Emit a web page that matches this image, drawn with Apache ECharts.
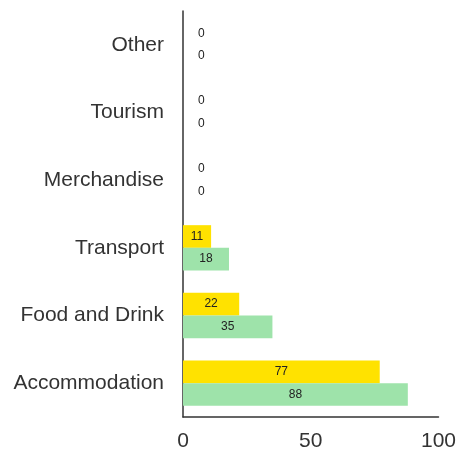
<!DOCTYPE html>
<html>
<head>
<meta charset="utf-8">
<script src="https://cdn.jsdelivr.net/npm/echarts@6/dist/echarts.min.js"></script>
<style>html,body{margin:0;padding:0;background:#fff}#c{width:459px;height:452px}</style>
</head>
<body>
<div id="c"></div>
<script>
var categories = ['Accommodation', 'Food and Drink', 'Transport', 'Merchandise', 'Tourism', 'Other'];
var yellowValues = [77, 22, 11, 0, 0, 0];
var greenValues = [88, 35, 18, 0, 0, 0];
var xTicks = [0, 50, 100];

function toData(vals) {
  return vals.map(function (v) {
    if (v === 0) {
      return { value: v, label: { position: 'right', distance: 15 } };
    }
    return v;
  });
}

var chart = echarts.init(document.getElementById('c'), null, { renderer: 'canvas' });
var font = "'Liberation Sans', Arial, sans-serif";
chart.setOption({
  animation: false,
  grid: { left: 183, right: 19, top: 11, bottom: 34, containLabel: false },
  xAxis: {
    type: 'value', min: 0, max: 100, interval: 50,
    axisLine: { show: true, lineStyle: { color: '#333', width: 1.5 } },
    axisTick: { show: false },
    splitLine: { show: false },
    axisLabel: { fontSize: 21, color: '#333', fontFamily: font, margin: 14,
      formatter: function (v) { return xTicks.indexOf(v) >= 0 ? String(v) : ''; } }
  },
  yAxis: {
    type: 'category', data: categories,
    axisLine: { show: true, lineStyle: { color: '#333', width: 1.5 } },
    axisTick: { show: false },
    axisLabel: { fontSize: 21, color: '#333', fontFamily: font, margin: 19 }
  },
  series: [
    {
      name: 'yellow', type: 'bar', data: toData(yellowValues),
      itemStyle: { color: '#ffe200' },
      barGap: '0%', barCategoryGap: '33%',
      label: { show: true, position: 'inside', color: '#222', fontSize: 12, fontFamily: font }
    },
    {
      name: 'green', type: 'bar', data: toData(greenValues),
      itemStyle: { color: '#9ee3aa' },
      barGap: '0%', barCategoryGap: '33%',
      label: { show: true, position: 'inside', color: '#222', fontSize: 12, fontFamily: font }
    }
  ]
});
</script>
</body>
</html>
